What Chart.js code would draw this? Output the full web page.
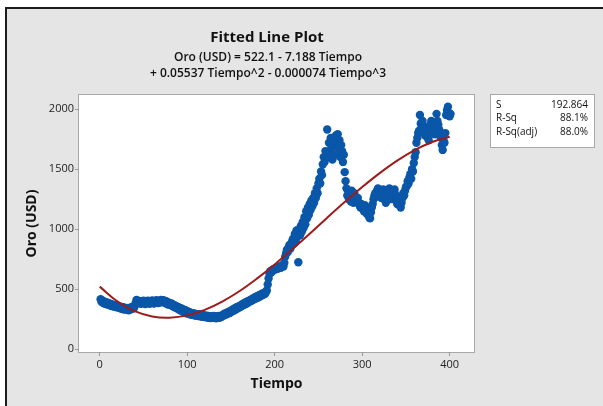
<!DOCTYPE html>
<html>
<head>
<meta charset="utf-8">
<script src="https://cdn.jsdelivr.net/npm/chart.js@4.4.1/dist/chart.umd.min.js"></script>
<style>
  html, body { margin: 0; padding: 0; background: #fff; }
  #wrap { position: relative; width: 603px; height: 406px; }
</style>
</head>
<body>
<div id="wrap"><canvas id="chart"></canvas></div>
<script>
// gold price (USD) per period, periods 1..401
const oro = [
  418, 395, 405, 385, 398, 380, 392, 375, 388, 370,
  382, 365, 378, 360, 372, 356, 368, 352, 362, 350,
  360, 345, 355, 340, 352, 336, 350, 332, 345, 338,
  330, 345, 325, 340, 332, 350, 338, 355, 342, 360,
  385, 412, 395, 405, 385, 400, 380, 398, 388, 405,
  392, 378, 400, 385, 405, 388, 380, 398, 390, 408,
  395, 382, 402, 390, 410, 395, 385, 400, 392, 412,
  405, 392, 410, 398, 385, 400, 378, 392, 372, 385,
  370, 382, 360, 372, 352, 365, 345, 358, 338, 350,
  330, 345, 322, 338, 315, 330, 308, 325, 300, 318,
  298, 312, 292, 305, 288, 300, 285, 298, 282, 295,
  280, 292, 278, 290, 275, 288, 272, 285, 270, 282,
  268, 280, 265, 278, 262, 275, 260, 272, 265, 278,
  262, 275, 258, 270, 265, 278, 262, 275, 270, 285,
  280, 295, 285, 300, 292, 308, 298, 315, 305, 322,
  315, 332, 322, 340, 330, 348, 338, 356, 345, 362,
  355, 372, 362, 380, 370, 388, 378, 396, 385, 402,
  395, 412, 402, 420, 410, 428, 418, 436, 425, 442,
  432, 450, 440, 458, 448, 465, 455, 472, 462, 478,
  490, 540, 590, 630, 650, 640, 660, 655, 670, 665,
  675, 668, 680, 672, 685, 690, 678, 695, 700, 690,
  720, 770, 800, 830, 810, 850, 870, 840, 880, 900,
  920, 880, 960, 900, 990, 940, 725, 1000, 950, 1030,
  980, 1060, 1010, 1100, 1040, 1150, 1090, 1180, 1120, 1210,
  1160, 1240, 1190, 1260, 1220, 1300, 1260, 1340, 1300, 1380,
  1420, 1380, 1480, 1450, 1540, 1600, 1560, 1650, 1620, 1830,
  1600, 1720, 1650, 1760, 1680, 1580, 1740, 1700, 1620, 1780,
  1720, 1790, 1660, 1740, 1600, 1700, 1650, 1560, 1620, 1475,
  1400, 1340, 1280, 1320, 1250, 1300, 1230, 1320, 1270, 1220,
  1300, 1270, 1240, 1230, 1260, 1220, 1200, 1180, 1210, 1190,
  1170, 1150, 1200, 1180, 1130, 1160, 1120, 1100, 1090, 1140,
  1180, 1210, 1250, 1280, 1300, 1270, 1320, 1340, 1290, 1310,
  1280, 1260, 1300, 1330, 1280, 1250, 1220, 1260, 1300, 1320,
  1340, 1310, 1280, 1250, 1270, 1300, 1330, 1290, 1240, 1210,
  1230, 1260, 1200, 1180, 1220, 1260, 1300, 1280, 1320, 1350,
  1360, 1400, 1380, 1430, 1460, 1420, 1500, 1480, 1550, 1600,
  1640, 1720, 1760, 1800, 1820, 1950, 1880, 1860, 1900, 1840,
  1800, 1780, 1850, 1820, 1760, 1740, 1800, 1870, 1900, 1860,
  1880, 1820, 1790, 1850, 1960, 1900, 1870, 1830, 1780, 1760,
  1700, 1660, 1740, 1720, 1800, 1950, 1990, 2020, 1970, 1940,
  1960
];

// fitted curve, read every 20 periods
const fitTiempo = [0, 20, 40, 60, 80, 100, 120, 140, 160, 180, 200,
                   220, 240, 260, 280, 300, 320, 340, 360, 380, 400];
const fitOro = [522, 400, 318, 274, 264, 283, 329, 398, 486, 591, 707,
                833, 963, 1096, 1226, 1351, 1467, 1571, 1658, 1726, 1770];

const xTicks = [0, 100, 200, 300, 400];
const yTicks = [0, 500, 1000, 1500, 2000];

const titleLines = [
  "Fitted Line Plot",
  "Oro (USD) = 522.1 - 7.188 Tiempo",
  "+ 0.05537 Tiempo^2 - 0.000074 Tiempo^3"
];
const statNames = ["S", "R-Sq", "R-Sq(adj)"];
const statValues = ["192.864", "88.1%", "88.0%"];

const FONT = "'Open Sans', 'Noto Sans', sans-serif";

const points = oro.map((v, i) => ({ x: i + 1, y: v }));
const fit = fitTiempo.map((t, i) => ({ x: t, y: fitOro[i] }));

const framePlugin = {
  id: "frame",
  beforeDraw(chart) {
    const { ctx, width, height, chartArea: a } = chart;
    ctx.save();
    ctx.fillStyle = "#ffffff";
    ctx.fillRect(0, 0, width, height);
    ctx.fillStyle = "#e5e5e5";
    ctx.fillRect(5, 7, width - 5, height - 7);
    ctx.strokeStyle = "#1c1c1c";
    ctx.lineWidth = 2;
    ctx.beginPath();
    ctx.moveTo(6, height);
    ctx.lineTo(6, 8);
    ctx.lineTo(width, 8);
    ctx.stroke();
    ctx.fillStyle = "#ffffff";
    ctx.fillRect(a.left, a.top, a.right - a.left, a.bottom - a.top);
    ctx.strokeStyle = "#a8a8a8";
    ctx.lineWidth = 1;
    ctx.strokeRect(a.left - 0.5, a.top - 0.5, a.right - a.left + 1, a.bottom - a.top + 1);
    ctx.restore();
  },
  afterDraw(chart) {
    const { ctx } = chart;
    ctx.save();
    ctx.fillStyle = "#111";
    ctx.textAlign = "center";
    ctx.textBaseline = "middle";
    ctx.font = "bold 15px " + FONT;
    ctx.fillText(titleLines[0], 267, 38);
    ctx.font = "600 12px " + FONT;
    ctx.fillText(titleLines[1], 268, 58);
    ctx.fillText(titleLines[2], 268, 74);

    // stats box
    ctx.fillStyle = "#ffffff";
    ctx.fillRect(490, 94, 104, 53);
    ctx.strokeStyle = "#a8a8a8";
    ctx.strokeRect(490.5, 94.5, 104, 53);
    ctx.fillStyle = "#111";
    ctx.font = "10px " + FONT;
    statNames.forEach((s, i) => {
      const y = 105 + i * 13.5;
      ctx.textAlign = "left";
      ctx.fillText(s, 496, y);
      ctx.textAlign = "right";
      ctx.fillText(statValues[i], 588, y);
    });
    ctx.restore();
  }
};

new Chart(document.getElementById("chart"), {
  type: "scatter",
  data: {
    datasets: [
      {
        label: "Fit",
        data: fit,
        showLine: true,
        tension: 0.4,
        borderColor: "#9e1b1b",
        borderWidth: 2,
        pointRadius: 0,
        order: 0
      },
      {
        label: "Oro (USD)",
        data: points,
        backgroundColor: "#0a56a8",
        borderColor: "#0a56a8",
        borderWidth: 0,
        pointRadius: 4.2,
        order: 1
      }
    ]
  },
  options: {
    responsive: true,
    maintainAspectRatio: false,
    animation: false,
    layout: { padding: { top: 95, right: 129, left: 0, bottom: 0 } },
    plugins: {
      legend: { display: false },
      tooltip: { enabled: false }
    },
    scales: {
      x: {
        type: "linear",
        min: -23.7,
        max: 427.8,
        afterFit: (s) => { s.height = 54; },
        afterBuildTicks: (s) => { s.ticks = xTicks.map(v => ({ value: v })); },
        border: { display: false },
        grid: { drawOnChartArea: false, tickLength: 4, color: "#9a9a9a" },
        ticks: { padding: 2, color: "#222", font: { family: FONT, size: 11 }, callback: (v) => String(v) },
        title: {
          display: true,
          text: "Tiempo",
          color: "#111",
          font: { family: FONT, size: 14, weight: "bold" },
          padding: { bottom: 14 }
        }
      },
      y: {
        min: -22,
        max: 2117,
        afterFit: (s) => { s.width = 79; },
        afterBuildTicks: (s) => { s.ticks = yTicks.map(v => ({ value: v })); },
        border: { display: false },
        grid: { drawOnChartArea: false, tickLength: 4, color: "#9a9a9a" },
        ticks: { padding: 1, color: "#222", font: { family: FONT, size: 11 }, callback: (v) => String(v) },
        title: {
          display: true,
          text: "Oro (USD)",
          color: "#111",
          font: { family: FONT, size: 14, weight: "bold" },
          padding: { top: 24 }
        }
      }
    }
  },
  plugins: [framePlugin]
});
</script>
</body>
</html>
